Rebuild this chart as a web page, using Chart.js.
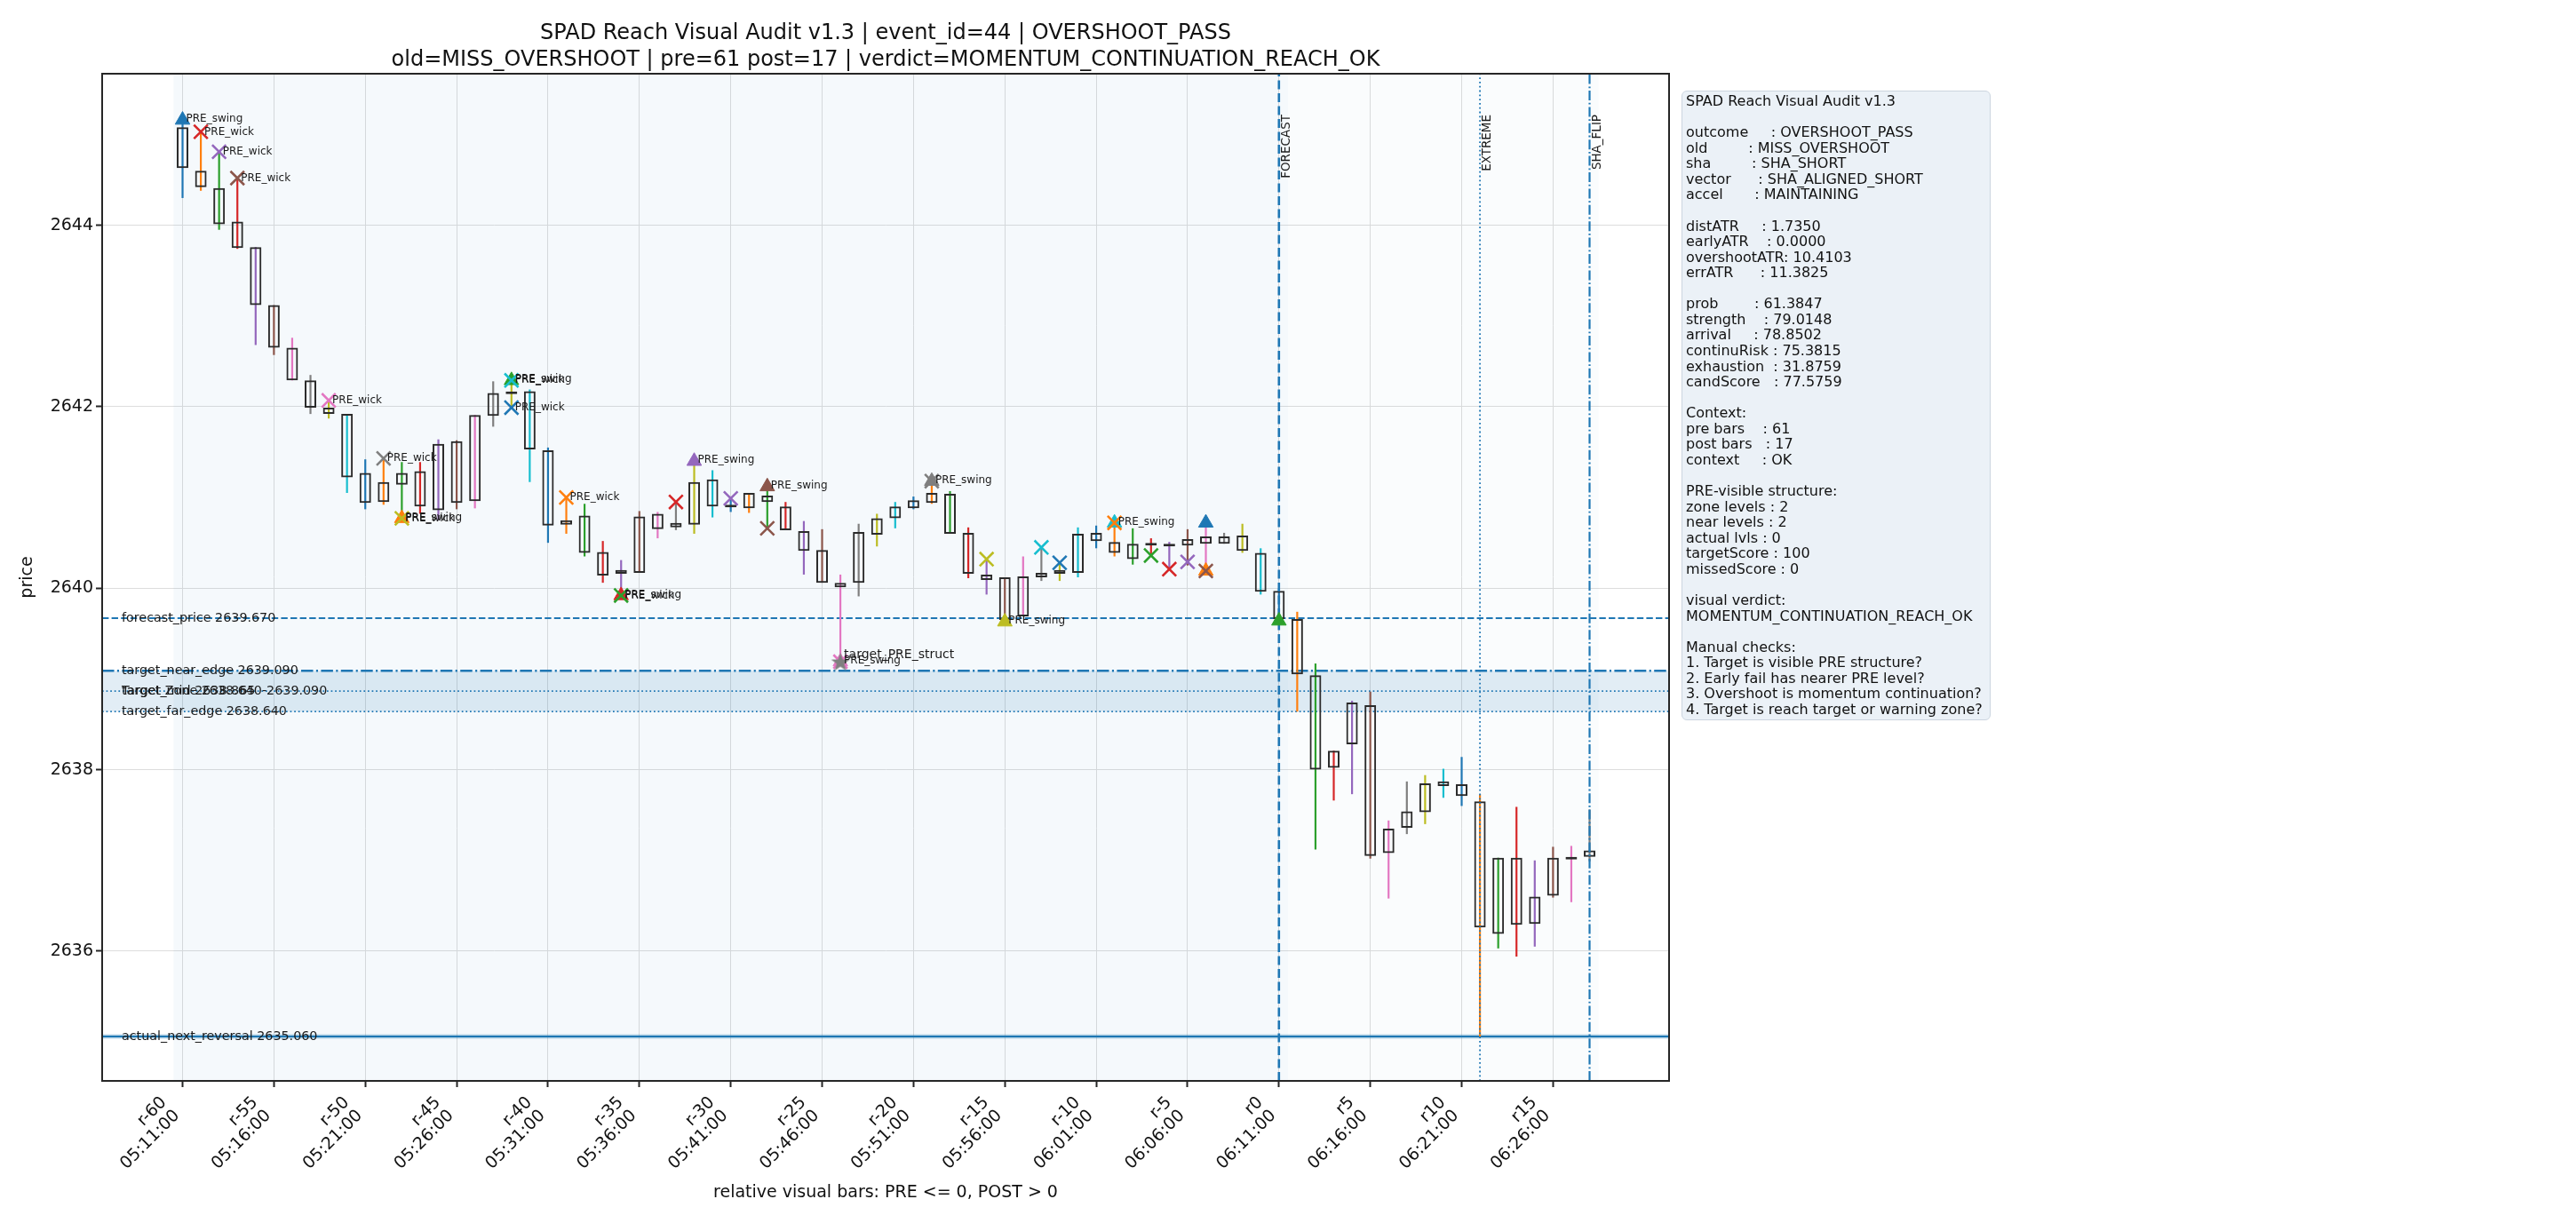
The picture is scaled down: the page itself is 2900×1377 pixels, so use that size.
<!DOCTYPE html>
<html lang="en">
<head>
  <meta charset="UTF-8">
  <title>SPAD Reach Visual Audit v1.3</title>
  <script src="https://cdn.jsdelivr.net/npm/chart.js"></script>
  <style>
    body {
      margin: 0;
      background: #fff;
      font-family: 'DejaVu Sans', sans-serif;
      color: #111;
    }
    #wrap {
      position: relative;
      width: 2900px;
      height: 1377px;
    }
    #c {
      position: absolute;
      left: 0;
      top: 0;
    }
    #title {
      position: absolute;
      left: 115px;
      width: 1764px;
      top: 21px;
      text-align: center;
      font-size: 24px;
      line-height: 30px;
    }
    #info {
      position: absolute;
      left: 1893px;
      top: 102px;
      width: 348px;
      height: 709px;
      box-sizing: border-box;
      padding: 2px 0 0 4px;
      background: #ebf1f7;
      border: 1.5px solid #ccd5df;
      border-radius: 6px;
      font-size: 16px;
      line-height: 17.57px;
      white-space: pre;
    }
  </style>
</head>
<body>
<div id="wrap">
  <canvas id="c" width="2900" height="1377"></canvas>
  <div id="title">SPAD Reach Visual Audit v1.3 | event_id=44 | OVERSHOOT_PASS<br>old=MISS_OVERSHOOT | pre=61 post=17 | verdict=MOMENTUM_CONTINUATION_REACH_OK</div>
  <div id="info"></div>
</div>

<script>
  // relative bar index (PRE <= 0, POST > 0)
  const rel = [-60,-59,-58,-57,-56,-55,-54,-53,-52,-51,-50,-49,-48,-47,-46,-45,-44,-43,-42,-41,
               -40,-39,-38,-37,-36,-35,-34,-33,-32,-31,-30,-29,-28,-27,-26,-25,-24,-23,-22,-21,
               -20,-19,-18,-17,-16,-15,-14,-13,-12,-11,-10,-9,-8,-7,-6,-5,-4,-3,-2,-1,
               0,1,2,3,4,5,6,7,8,9,10,11,12,13,14,15,16,17];

  const openP = [2645.08,2644.60,2644.41,2644.04,2643.76,2643.12,2642.65,2642.29,2641.99,2641.92,
                 2641.27,2640.95,2641.14,2641.29,2640.86,2641.62,2640.96,2641.90,2642.15,2642.17,
                 2641.52,2640.70,2640.80,2640.40,2640.16,2640.17,2640.82,2640.67,2640.70,2641.20,
                 2640.89,2640.88,2641.02,2640.90,2640.63,2640.42,2640.06,2640.06,2640.59,2640.77,
                 2640.88,2640.94,2641.04,2640.61,2640.15,2640.12,2639.69,2640.12,2640.16,2640.17,
                 2640.61,2640.51,2640.32,2640.48,2640.46,2640.47,2640.57,2640.49,2640.58,2640.39,
                 2639.97,2639.66,2639.04,2638.02,2638.28,2638.71,2637.08,2637.36,2637.53,2637.87,
                 2637.84,2637.65,2636.19,2637.03,2636.30,2636.61,2637.02,2637.04];
  const closeP = [2644.63,2644.42,2644.01,2643.75,2643.12,2642.65,2642.29,2641.99,2641.92,2641.22,
                  2640.94,2641.17,2641.27,2640.90,2641.59,2640.94,2641.91,2642.15,2642.14,2641.53,
                  2640.69,2640.75,2640.39,2640.14,2640.20,2640.79,2640.65,2640.72,2641.17,2640.90,
                  2640.91,2641.05,2640.95,2640.64,2640.41,2640.06,2640.01,2640.62,2640.77,2640.90,
                  2640.97,2641.05,2640.60,2640.16,2640.09,2639.65,2640.13,2640.17,2640.20,2640.60,
                  2640.52,2640.39,2640.49,2640.47,2640.49,2640.54,2640.49,2640.57,2640.41,2639.96,
                  2639.66,2639.05,2638.00,2638.21,2638.74,2637.05,2637.35,2637.54,2637.85,2637.82,
                  2637.71,2636.26,2637.03,2636.29,2636.60,2637.03,2637.01,2637.11];
  const highP = [2645.16,2645.03,2644.81,2644.52,2643.76,2643.12,2642.76,2642.35,2642.07,2641.92,
                 2641.42,2641.43,2641.39,2641.39,2641.64,2641.63,2641.91,2642.28,2642.29,2642.19,
                 2641.55,2641.00,2640.93,2640.52,2640.31,2640.85,2640.84,2640.95,2641.40,2641.30,
                 2640.99,2641.05,2641.12,2640.95,2640.74,2640.65,2640.15,2640.71,2640.82,2640.95,
                 2641.01,2641.18,2641.07,2640.67,2640.32,2640.12,2640.35,2640.45,2640.28,2640.67,
                 2640.69,2640.72,2640.66,2640.55,2640.51,2640.65,2640.72,2640.61,2640.71,2640.44,
                 2640.00,2639.74,2639.17,2638.21,2638.76,2638.86,2637.44,2637.87,2637.94,2638.01,
                 2638.14,2637.73,2637.03,2637.59,2637.00,2637.15,2637.16,2637.56];
  const lowP = [2644.30,2644.38,2643.95,2643.74,2642.68,2642.57,2642.29,2641.92,2641.87,2641.05,
                2640.87,2640.92,2640.77,2640.82,2640.75,2640.87,2640.88,2641.78,2641.99,2641.17,
                2640.50,2640.60,2640.35,2640.06,2639.92,2640.17,2640.55,2640.64,2640.60,2640.78,
                2640.84,2640.83,2640.66,2640.64,2640.15,2640.06,2639.19,2639.91,2640.46,2640.66,
                2640.87,2640.93,2640.60,2640.11,2639.93,2639.63,2639.69,2640.08,2640.08,2640.12,
                2640.44,2640.35,2640.26,2640.36,2640.21,2640.25,2640.19,2640.49,2640.39,2639.93,
                2639.61,2638.64,2637.12,2637.66,2637.73,2637.02,2636.58,2637.29,2637.40,2637.69,
                2637.60,2635.06,2636.03,2635.94,2636.05,2636.59,2636.54,2636.99];

  // PRE_wick markers
  const wickMarkX = [-59,-58,-57,-52,-49,-48,-42,-42,-39,-36,-33,-30,-28,-24,-19,-16,-13,-12,-9,-7,-6,-5,-4];
  const wickMarkY = [2645.03,2644.81,2644.52,2642.07,2641.43,2640.77,2642.29,2641.99,2641.00,2639.92,
                     2640.95,2640.99,2640.66,2639.19,2641.18,2640.32,2640.45,2640.28,2640.72,2640.36,
                     2640.21,2640.29,2640.19];
  const wickMarkColor = ['red','purple','brown','pink','gray','olive','cyan','blue','orange','green',
                         'red','purple','brown','pink','gray','olive','cyan','blue','orange','green',
                         'red','purple','brown'];
  const wickMarkLabel = ['PRE_wick','PRE_wick','PRE_wick','PRE_wick','PRE_wick','PRE_wick','PRE_wick','PRE_wick','PRE_wick','PRE_wick',
                         '','','','','','','','','','','','',''];

  // PRE_swing markers
  const swingMarkX = [-60,-48,-42,-36,-32,-28,-24,-19,-15,-9,-4,-4,0];
  const swingMarkY = [2645.16,2640.77,2642.29,2639.92,2641.40,2641.12,2639.19,2641.18,2639.63,2640.72,2640.72,2640.19,2639.64];
  const swingMarkColor = ['blue','orange','green','red','purple','brown','pink','gray','olive','cyan','blue','orange','green'];
  const swingMarkLabel = ['PRE_swing','PRE_swing','PRE_swing','PRE_swing','PRE_swing','PRE_swing','PRE_swing','PRE_swing','PRE_swing','PRE_swing','','',''];

  // target structure
  const targetX = [-24];
  const targetY = [2639.19];
  const targetLabel = ['target_PRE_struct'];

  // horizontal reference levels
  const levelNames = ['forecast_price','target_near_edge','target_mid','target_far_edge','actual_next_reversal'];
  const levelValues = [2639.670, 2639.090, 2638.865, 2638.640, 2635.060];
  const zoneLow = 2638.640;
  const zoneHigh = 2639.090;

  // vertical event lines
  const eventNames = ['FORECAST','EXTREME','SHA_FLIP'];
  const eventAt = [0, 11, 17];

  // x ticks
  const tickRel = [-60,-55,-50,-45,-40,-35,-30,-25,-20,-15,-10,-5,0,5,10,15];
  const tickNames = ['r-60','r-55','r-50','r-45','r-40','r-35','r-30','r-25','r-20','r-15','r-10','r-5','r0','r5','r10','r15'];
  const tickTimes = ['05:11:00','05:16:00','05:21:00','05:26:00','05:31:00','05:36:00','05:41:00','05:46:00',
                     '05:51:00','05:56:00','06:01:00','06:06:00','06:11:00','06:16:00','06:21:00','06:26:00'];
  const yTicks = [2636, 2638, 2640, 2642, 2644];

  const infoLines = [
    'SPAD Reach Visual Audit v1.3',
    '',
    'outcome     : OVERSHOOT_PASS',
    'old         : MISS_OVERSHOOT',
    'sha         : SHA_SHORT',
    'vector      : SHA_ALIGNED_SHORT',
    'accel       : MAINTAINING',
    '',
    'distATR     : 1.7350',
    'earlyATR    : 0.0000',
    'overshootATR: 10.4103',
    'errATR      : 11.3825',
    '',
    'prob        : 61.3847',
    'strength    : 79.0148',
    'arrival     : 78.8502',
    'continuRisk : 75.3815',
    'exhaustion  : 31.8759',
    'candScore   : 77.5759',
    '',
    'Context:',
    'pre bars    : 61',
    'post bars   : 17',
    'context     : OK',
    '',
    'PRE-visible structure:',
    'zone levels : 2',
    'near levels : 2',
    'actual lvls : 0',
    'targetScore : 100',
    'missedScore : 0',
    '',
    'visual verdict:',
    'MOMENTUM_CONTINUATION_REACH_OK',
    '',
    'Manual checks:',
    '1. Target is visible PRE structure?',
    '2. Early fail has nearer PRE level?',
    '3. Overshoot is momentum continuation?',
    '4. Target is reach target or warning zone?'
  ];
  document.getElementById('info').textContent = infoLines.join('\n');

  const TAB = {
    blue: '#1f77b4', orange: '#ff7f0e', green: '#2ca02c', red: '#d62728', purple: '#9467bd',
    brown: '#8c564b', pink: '#e377c2', gray: '#7f7f7f', olive: '#bcbd22', cyan: '#17becf'
  };
  const CYCLE = ['blue','orange','green','red','purple','brown','pink','gray','olive','cyan'];
  const BLUE = TAB.blue;

  const X0 = -64.4, X1 = 21.35, Y0 = 2634.57, Y1 = 2645.67;

  // filled 5-point star used as point style
  function starCanvas(color, size) {
    const cv = document.createElement('canvas');
    cv.width = size; cv.height = size;
    const g = cv.getContext('2d');
    const cx = size / 2, cy = size / 2 + 1, R = size / 2 - 0.5, r = R * 0.4;
    g.beginPath();
    for (let k = 0; k < 10; k++) {
      const rad = k % 2 === 0 ? R : r;
      const ang = -Math.PI / 2 + k * Math.PI / 5;
      const px = cx + rad * Math.cos(ang), py = cy + rad * Math.sin(ang);
      if (k === 0) g.moveTo(px, py); else g.lineTo(px, py);
    }
    g.closePath();
    g.fillStyle = color;
    g.fill();
    return cv;
  }

  const hline = (v, extra) => Object.assign({
    type: 'line',
    data: [{x: X0, y: v}, {x: X1, y: v}],
    borderColor: BLUE,
    borderWidth: 2,
    pointRadius: 0,
    fill: false,
    borderCapStyle: 'butt',
    order: 40
  }, extra);

  const vline = (v, extra) => Object.assign({
    type: 'line',
    data: [{x: v, y: Y0}, {x: v, y: Y1}],
    borderColor: BLUE,
    borderWidth: 2,
    pointRadius: 0,
    fill: false,
    borderCapStyle: 'butt',
    order: 3
  }, extra);

  const datasets = [
    // PRE / POST shading
    { type: 'line', data: [{x: -60.5, y: Y1}, {x: 0.5, y: Y1}], borderWidth: 0, pointRadius: 0,
      fill: 'start', backgroundColor: 'rgba(31,119,180,0.045)', order: 100 },
    { type: 'line', data: [{x: 0.5, y: Y1}, {x: 17.5, y: Y1}], borderWidth: 0, pointRadius: 0,
      fill: 'start', backgroundColor: 'rgba(31,119,180,0.022)', order: 100 },
    // target zone band
    { type: 'line', data: [{x: X0, y: zoneHigh}, {x: X1, y: zoneHigh}], borderWidth: 0, pointRadius: 0,
      fill: {target: {value: zoneLow}}, backgroundColor: 'rgba(31,119,180,0.13)', order: 90 },
    hline(levelValues[0], {borderDash: [7.4, 3.2]}),
    hline(levelValues[1], {borderWidth: 2.5, borderDash: [13.5, 3.4, 2.1, 3.4]}),
    hline(levelValues[2], {borderWidth: 1.7, borderDash: [1.7, 2.9]}),
    hline(levelValues[3], {borderWidth: 1.7, borderDash: [1.7, 2.9]}),
    hline(levelValues[4], {borderWidth: 5, borderColor: 'rgba(31,119,180,0.3)'}),
    hline(levelValues[4], {borderWidth: 2}),
    // candles
    { type: 'bar', data: rel.map((r, i) => ({x: r, y: [lowP[i], highP[i]]})),
      backgroundColor: rel.map((r, i) => TAB[CYCLE[i % 10]]), borderWidth: 0,
      grouped: false, maxBarThickness: 2.2, order: 20 },
    { type: 'bar', data: rel.map((r, i) => ({x: r, y: [openP[i], closeP[i]]})),
      backgroundColor: 'rgba(0,0,0,0)', borderColor: '#2b2b2b', borderWidth: 2, borderSkipped: false,
      grouped: false, maxBarThickness: 13, minBarLength: 3, order: 15 },
    // event lines
    vline(eventAt[0], {borderWidth: 2.6, borderDash: [10, 4.5]}),
    vline(eventAt[1], {borderWidth: 1.8, borderDash: [1.8, 3]}),
    vline(eventAt[2], {borderWidth: 2.2, borderDash: [11, 2.8, 1.8, 2.8]}),
    // markers
    { type: 'scatter', data: swingMarkX.map((x, i) => ({x, y: swingMarkY[i]})), pointStyle: 'triangle',
      pointRadius: 9.5, pointBackgroundColor: swingMarkColor.map(c => TAB[c]),
      pointBorderColor: swingMarkColor.map(c => TAB[c]), pointBorderWidth: 1, order: 2 },
    { type: 'scatter', data: wickMarkX.map((x, i) => ({x, y: wickMarkY[i]})), pointStyle: 'crossRot',
      pointRadius: 11, pointBorderColor: wickMarkColor.map(c => TAB[c]), pointBorderWidth: 2.6, order: 1 },
    { type: 'scatter', data: targetX.map((x, i) => ({x, y: targetY[i]})), pointStyle: starCanvas(TAB.gray, 23),
      pointRadius: 11, order: 0 }
  ];

  const annot = {
    id: 'annot',
    afterDatasetsDraw(chart) {
      const {ctx, chartArea: a, scales: {x, y}} = chart;
      ctx.save();
      ctx.fillStyle = '#1a1a1a';
      ctx.textAlign = 'left';
      ctx.textBaseline = 'middle';

      ctx.font = '14.3px "DejaVu Sans"';
      levelNames.forEach((n, i) => {
        ctx.fillText(n + ' ' + levelValues[i].toFixed(3), a.left + 22, y.getPixelForValue(levelValues[i]));
      });
      ctx.fillText('Target Zone ' + zoneLow.toFixed(3) + '-' + zoneHigh.toFixed(3), a.left + 22,
        y.getPixelForValue((zoneLow + zoneHigh) / 2));

      ctx.font = '12px "DejaVu Sans"';
      wickMarkLabel.forEach((t, i) => {
        if (t) ctx.fillText(t, x.getPixelForValue(wickMarkX[i]) + 4, y.getPixelForValue(wickMarkY[i]));
      });
      swingMarkLabel.forEach((t, i) => {
        if (t) ctx.fillText(t, x.getPixelForValue(swingMarkX[i]) + 4, y.getPixelForValue(swingMarkY[i]) - 1);
      });
      ctx.font = '14px "DejaVu Sans"';
      targetLabel.forEach((t, i) => {
        ctx.fillText(t, x.getPixelForValue(targetX[i]) + 4, y.getPixelForValue(targetY[i]) - 8);
      });

      ctx.font = '13.5px "DejaVu Sans"';
      eventNames.forEach((n, i) => {
        ctx.save();
        ctx.translate(x.getPixelForValue(eventAt[i]) + 2, a.top + 46);
        ctx.rotate(-Math.PI / 2);
        ctx.textAlign = 'right';
        ctx.textBaseline = 'top';
        ctx.fillText(n, 0, 0);
        ctx.restore();
      });

      ctx.strokeStyle = '#262626';
      ctx.lineWidth = 2;
      ctx.strokeRect(a.left, a.top, a.right - a.left, a.bottom - a.top);
      ctx.restore();
    }
  };

  Chart.defaults.font.family = '"DejaVu Sans", sans-serif';
  Chart.defaults.color = '#111';

  new Chart(document.getElementById('c'), {
    type: 'bar',
    data: { datasets },
    options: {
      responsive: false,
      devicePixelRatio: 1,
      animation: false,
      events: [],
      layout: { padding: { left: 15, right: 1021, top: 83, bottom: 0 } },
      plugins: { legend: { display: false }, tooltip: { enabled: false }, title: { display: false } },
      scales: {
        x: {
          type: 'linear',
          min: X0,
          max: X1,
          offset: false,
          afterBuildTicks: s => { s.ticks = tickRel.map(v => ({value: v})); },
          afterFit: s => { s.height = 160; },
          grid: { offset: false, color: '#dddddd', lineWidth: 1, tickLength: 7, tickColor: '#262626', tickWidth: 2 },
          border: { display: true, color: '#262626', width: 2 },
          ticks: {
            autoSkip: false,
            maxRotation: 45,
            minRotation: 45,
            labelOffset: -21,
            padding: 7,
            font: { size: 19, lineHeight: 1.1 },
            color: '#111',
            callback: (v, i) => [tickNames[i], tickTimes[i]]
          },
          title: {
            display: true,
            text: 'relative visual bars: PRE <= 0, POST > 0',
            font: { size: 19 },
            color: '#111',
            padding: { top: 4, bottom: 23 }
          }
        },
        y: {
          type: 'linear',
          min: Y0,
          max: Y1,
          beginAtZero: false,
          afterBuildTicks: s => { s.ticks = yTicks.map(v => ({value: v})); },
          afterFit: s => { s.width = 100; },
          grid: { color: '#dddddd', lineWidth: 1, tickLength: 7, tickColor: '#262626', tickWidth: 2 },
          border: { display: true, color: '#262626', width: 2 },
          ticks: { font: { size: 19 }, color: '#111', padding: 3, callback: v => String(v) },
          title: { display: true, text: 'price', font: { size: 19 }, color: '#111', padding: { top: 5, bottom: 4 } }
        }
      }
    },
    plugins: [annot]
  });
</script>
</body>
</html>
